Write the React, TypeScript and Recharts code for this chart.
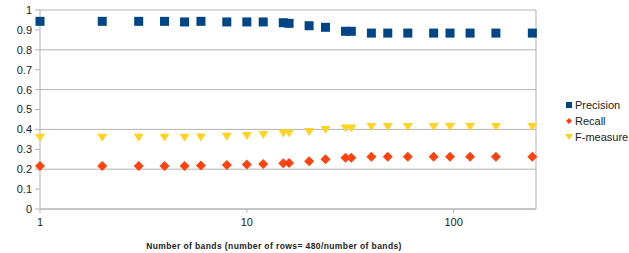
import React from 'react';
import { ScatterChart, Scatter, XAxis, YAxis, CartesianGrid, Legend, ReferenceLine } from 'recharts';

const bands = [1, 2, 3, 4, 5, 6, 8, 10, 12, 15, 16, 20, 24, 30, 32, 40, 48, 60, 80, 96, 120, 160, 240];
const precision = [0.943, 0.943, 0.943, 0.943, 0.94, 0.943, 0.94, 0.94, 0.94, 0.936, 0.933, 0.921, 0.913, 0.893, 0.893, 0.884, 0.884, 0.884, 0.884, 0.884, 0.884, 0.884, 0.884];
const recall = [0.216, 0.216, 0.216, 0.216, 0.216, 0.218, 0.221, 0.223, 0.226, 0.23, 0.231, 0.24, 0.25, 0.258, 0.258, 0.263, 0.263, 0.263, 0.263, 0.263, 0.263, 0.263, 0.263];
const fMeasure = [0.358, 0.358, 0.358, 0.358, 0.358, 0.359, 0.363, 0.367, 0.372, 0.38, 0.38, 0.387, 0.397, 0.405, 0.405, 0.412, 0.412, 0.412, 0.412, 0.412, 0.412, 0.412, 0.412];
const xTicks = [1, 10, 100];
const yTicks = [0, 0.1, 0.2, 0.3, 0.4, 0.5, 0.6, 0.7, 0.8, 0.9, 1];
const seriesNames = ['Precision', 'Recall', 'F-measure'];
const colors = ['#004586', '#ff420e', '#ffd320'];
const xTitle = 'Number of bands (number of rows= 480/number of bands)';

const toData = (vals: number[]) => bands.map((b, i) => ({ x: b, y: vals[i] }));

const SquareShape = (p: any) => {
  const s = 9;
  return <rect x={p.cx - s / 2} y={p.cy - s / 2} width={s} height={s} fill={colors[0]} />;
};
const DiamondShape = (p: any) => {
  const r = 5;
  return <polygon points={`${p.cx},${p.cy - r} ${p.cx + r},${p.cy} ${p.cx},${p.cy + r} ${p.cx - r},${p.cy}`} fill={colors[1]} />;
};
const TriangleShape = (p: any) => {
  const w = 5, h = 8;
  return <polygon points={`${p.cx - w},${p.cy - h / 2} ${p.cx + w},${p.cy - h / 2} ${p.cx},${p.cy + h / 2}`} fill={colors[2]} />;
};

const LegendContent = () => (
  <div style={{ fontFamily: 'Liberation Sans, Arial, sans-serif', fontSize: 11, color: '#222' }}>
    {seriesNames.map((n, i) => (
      <div key={n} style={{ display: 'flex', alignItems: 'center', height: 16, whiteSpace: 'nowrap' }}>
        <svg width={8} height={8} style={{ marginRight: 2 }}>
          {i === 0 && <rect x={1} y={1} width={6} height={6} fill={colors[0]} />}
          {i === 1 && <polygon points="4,1 7,4 4,7 1,4" fill={colors[1]} />}
          {i === 2 && <polygon points="0,1 8,1 4,7" fill={colors[2]} />}
        </svg>
        <span>{n}</span>
      </div>
    ))}
  </div>
);

export default function App() {
  return (
    <div style={{ position: 'absolute', left: 0, top: 0, width: 629, height: 253, background: '#fff', overflow: 'hidden' }}>
      <ScatterChart width={629} height={253} margin={{ top: 10, right: 93, bottom: 0, left: 0 }}>
        <CartesianGrid vertical={false} stroke="#b3b3b3" />
        <XAxis
          type="number"
          dataKey="x"
          scale="log"
          domain={[1, 250]}
          ticks={xTicks}
          height={44}
          tickSize={4}
          tickMargin={5}
          stroke="#b3b3b3"
          tick={{ fill: '#222', fontSize: 11, fontFamily: 'Liberation Sans, Arial, sans-serif' }}
          label={{
            value: xTitle,
            position: 'insideBottom',
            offset: 4,
            dx: -14,
            style: { fontSize: 8.5, fontWeight: 'bold', fill: '#222', fontFamily: 'Liberation Sans, Arial, sans-serif', letterSpacing: 0.4 },
          }}
        />
        <YAxis
          type="number"
          dataKey="y"
          domain={[0, 1]}
          ticks={yTicks}
          width={40}
          tickSize={5}
          tickMargin={3}
          stroke="#b3b3b3"
          tick={{ fill: '#222', fontSize: 11, fontFamily: 'Liberation Sans, Arial, sans-serif' }}
        />
        <ReferenceLine x={250} stroke="#b3b3b3" ifOverflow="visible" />
        <Legend
          layout="vertical"
          align="center"
          verticalAlign="middle"
          content={<LegendContent />}
          wrapperStyle={{ left: 565, top: 97, width: 80 }}
        />
        <Scatter name={seriesNames[0]} data={toData(precision)} fill={colors[0]} shape={SquareShape} isAnimationActive={false} />
        <Scatter name={seriesNames[1]} data={toData(recall)} fill={colors[1]} shape={DiamondShape} isAnimationActive={false} />
        <Scatter name={seriesNames[2]} data={toData(fMeasure)} fill={colors[2]} shape={TriangleShape} isAnimationActive={false} />
      </ScatterChart>
    </div>
  );
}
